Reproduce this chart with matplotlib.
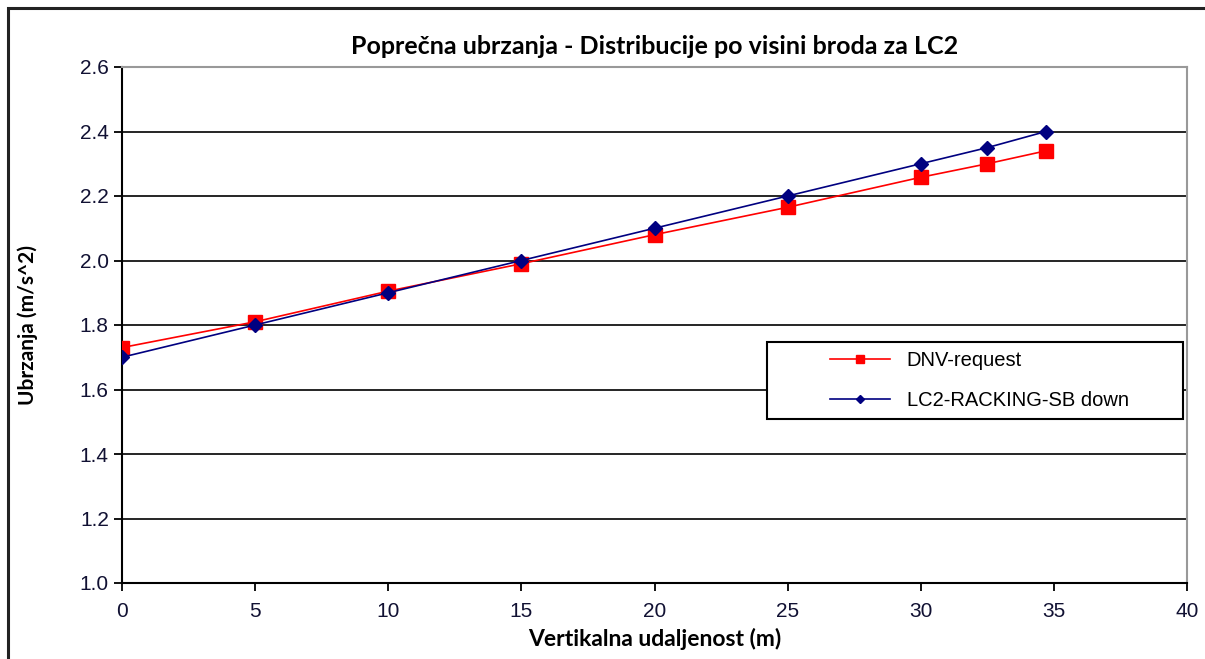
import matplotlib.pyplot as plt
from matplotlib.patches import Rectangle

# podaci ocitani s grafa
x = [0, 5, 10, 15, 20, 25, 30, 32.5, 34.7]
dnv = [1.73, 1.81, 1.905, 1.99, 2.08, 2.165, 2.258, 2.30, 2.34]
lc2 = [1.70, 1.80, 1.90, 2.00, 2.10, 2.20, 2.30, 2.35, 2.40]
xticks = [0, 5, 10, 15, 20, 25, 30, 35, 40]
yticks = [1.0, 1.2, 1.4, 1.6, 1.8, 2.0, 2.2, 2.4, 2.6]

W, H = 1205, 659
fig = plt.figure(figsize=(W / 100, H / 100), dpi=100)
fig.patch.set_facecolor('white')

# okvir grafikona (Excel chart area)
fig.patches.append(Rectangle((8 / W, -0.1), 1.2, 1 - 8 / H + 0.1, transform=fig.transFigure,
                             fill=False, edgecolor='#222222', linewidth=2.2))

ax = fig.add_axes([122 / W, 1 - 583 / H, (1187 - 122) / W, (583 - 67) / H])
ax.plot(x, dnv, color='#ff0000', lw=1.2, marker='s', ms=10, mec='#ff0000', mfc='#ff0000',
        label='DNV-request', zorder=3)
ax.plot(x, lc2, color='#000080', lw=1.2, marker='D', ms=7, mec='#000080', mfc='#000080',
        label='LC2-RACKING-SB down', zorder=4)

ax.set_xlim(0, 40)
ax.set_ylim(1.0, 2.6)
ax.set_xticks(xticks)
ax.set_yticks(yticks)
ax.set_yticklabels([f'{v:.1f}' for v in yticks])
ax.yaxis.grid(True, color='black', lw=1.2)
ax.set_axisbelow(True)

for s in ['top', 'right']:
    ax.spines[s].set_color('#999999')
    ax.spines[s].set_linewidth(1.5)
for s in ['left', 'bottom']:
    ax.spines[s].set_color('black')
    ax.spines[s].set_linewidth(1.5)

ax.tick_params(axis='both', direction='out', length=6, width=1.3, labelsize=15,
               labelcolor='#111133')
ax.tick_params(axis='x', pad=8)
for lbl in ax.get_xticklabels() + ax.get_yticklabels():
    lbl.set_family('Liberation Sans')

ax.set_title('Poprečna ubrzanja - Distribucije po visini broda za LC2', fontsize=18,
             fontweight='bold', family='Lato', pad=9)
ax.set_xlabel('Vertikalna udaljenost (m)', fontsize=16.5, fontweight='bold', family='Lato',
              labelpad=5)
ax.set_ylabel('Ubrzanja (m/s^2)', fontsize=15, fontweight='bold', family='Lato', labelpad=30)

# legenda: okvir posebno, sadrzaj uvucen kao u Excelu
pw, ph = 1187 - 122, 583 - 67
bx, by = (767 - 122) / pw, (583 - 419) / ph
bw, bh = (1183 - 767) / pw, (419 - 342) / ph
ax.add_patch(Rectangle((bx, by), bw, bh, transform=ax.transAxes, facecolor='white',
                       edgecolor='black', lw=1.5, zorder=5))
leg = ax.legend(loc='center left', bbox_to_anchor=((830 - 122) / pw, by + bh / 2),
                frameon=False, prop={'family': 'Liberation Sans', 'size': 14.5},
                handlelength=3.0, labelspacing=1.0, markerscale=0.6, borderaxespad=0,
                borderpad=0)
leg.set_zorder(6)

fig.savefig('out.png', dpi=100, facecolor='white')
